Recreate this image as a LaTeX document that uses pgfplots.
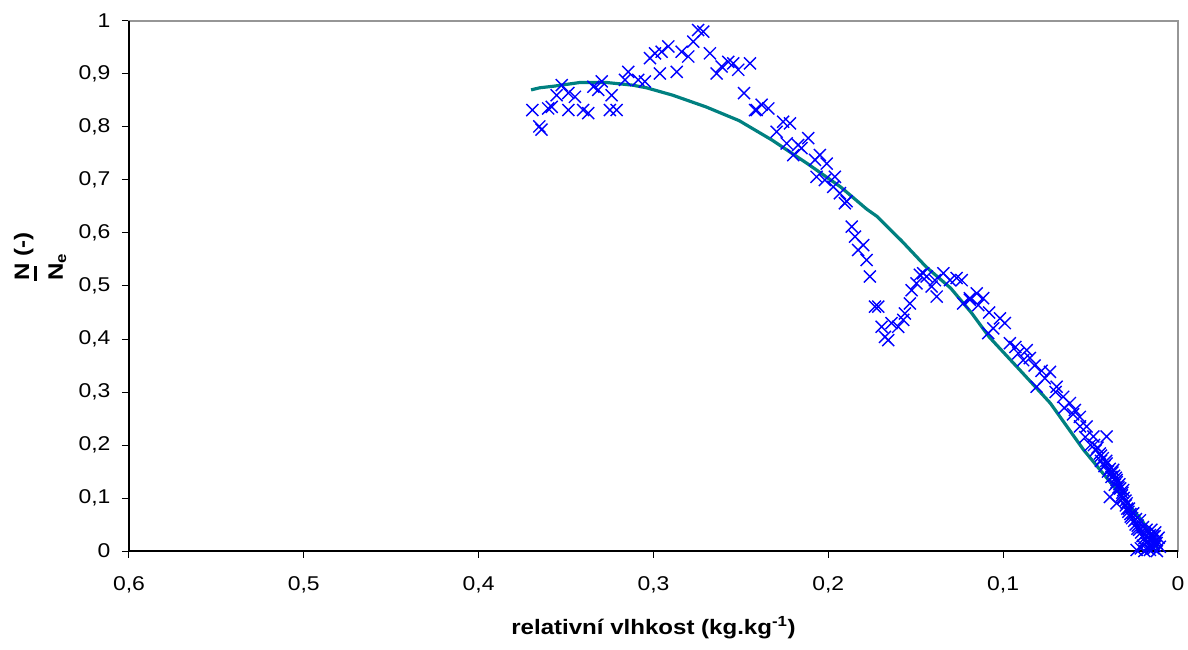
\documentclass[border=0pt]{standalone}
\usepackage{pgfplots}
\pgfplotsset{compat=1.18}
\usepackage{fontspec}
\setmainfont{Liberation Sans}[FakeStretch=1.15]
\definecolor{teal1}{RGB}{0,128,128}
\definecolor{frameg}{RGB}{150,150,150}
\begin{document}
\begin{tikzpicture}
\useasboundingbox (-129bp,-99bp) rectangle (1059bp,551bp);
\begin{axis}[
  at={(0,0)}, anchor=south west,
  scale only axis, width=1049bp, height=530bp,
  x dir=reverse,
  xmin=0, xmax=0.6, ymin=0, ymax=1,
  xtick={0,0.1,0.2,0.3,0.4,0.5,0.6},
  ytick={0,0.1,0.2,0.3,0.4,0.5,0.6,0.7,0.8,0.9,1},
  xtick pos=bottom, ytick pos=left,
  tick align=outside, major tick length=7bp,
  every tick/.style={black, line width=1pt},
  axis line style={frameg, line width=1.2pt},
  /pgf/number format/.cd, use comma, fixed, precision=1, assume math mode=true,
  /pgfplots/.cd,
  tick label style={font=\fontsize{20}{24}\selectfont},
  xticklabel style={yshift=-15bp},
  yticklabel style={xshift=-8bp},
  xlabel={\textbf{relativní vlhkost (kg.kg\textsuperscript{-1})}},
  xlabel style={font=\fontsize{21}{25}\selectfont, yshift=-17bp},
  ylabel={\textbf{\rlap{\rule[-8bp]{15bp}{3.5bp}}N (-)}\\\textbf{N\textsubscript{e}}},
  ylabel style={font=\fontsize{21}{34}\selectfont, align=left, inner sep=0pt, anchor=west, at={(axis description cs:-0.0848,0.5094)}},
  clip=false,
]
\addplot[only marks, mark=x, mark size=8.5bp, mark options={line width=1.4pt}, color={rgb,255:red,0;green,0;blue,255}] table {
0.3693 0.832
0.3653 0.801
0.3640 0.795
0.3602 0.835
0.3582 0.838
0.3554 0.860
0.3525 0.879
0.3487 0.832
0.3487 0.864
0.3449 0.857
0.3402 0.832
0.3373 0.826
0.3344 0.876
0.3316 0.870
0.3296 0.886
0.3249 0.832
0.3211 0.832
0.3239 0.860
0.3144 0.904
0.3163 0.889
0.3087 0.889
0.3049 0.886
0.3020 0.930
0.2991 0.939
0.2953 0.942
0.2915 0.952
0.2963 0.901
0.2867 0.904
0.2839 0.942
0.2801 0.933
0.2772 0.961
0.2744 0.983
0.2715 0.980
0.2677 0.939
0.2639 0.901
0.2610 0.914
0.2572 0.923
0.2544 0.920
0.2515 0.908
0.2448 0.920
0.2482 0.864
0.2419 0.832
0.2381 0.842
0.2343 0.835
0.2410 0.832
0.2258 0.810
0.2219 0.807
0.2295 0.791
0.2238 0.769
0.2172 0.766
0.2115 0.779
0.2153 0.760
0.2200 0.747
0.2048 0.747
0.2076 0.738
0.2009 0.731
0.2067 0.706
0.2019 0.700
0.1962 0.706
0.1972 0.687
0.1933 0.675
0.1905 0.656
0.1895 0.660
0.1866 0.612
0.1847 0.593
0.1800 0.577
0.1829 0.568
0.1781 0.549
0.1762 0.518
0.1733 0.461
0.1714 0.461
0.1695 0.423
0.1676 0.404
0.1657 0.398
0.1638 0.430
0.1600 0.423
0.1571 0.436
0.1562 0.448
0.1533 0.467
0.1523 0.492
0.1495 0.505
0.1476 0.521
0.1437 0.518
0.1409 0.499
0.1390 0.511
0.1457 0.524
0.1342 0.524
0.1304 0.511
0.1237 0.511
0.1380 0.480
0.1190 0.474
0.1151 0.486
0.1266 0.515
0.1190 0.477
0.1114 0.477
0.1142 0.464
0.1228 0.467
0.1080 0.450
0.1018 0.439
0.0990 0.430
0.1056 0.420
0.1085 0.411
0.0961 0.392
0.0930 0.385
0.0865 0.379
0.0913 0.373
0.0847 0.364
0.0885 0.360
0.0820 0.350
0.0780 0.340
0.0732 0.338
0.0761 0.326
0.0808 0.310
0.0700 0.300
0.0694 0.310
0.0656 0.291
0.0650 0.270
0.0618 0.279
0.0600 0.258
0.0589 0.266
0.0561 0.253
0.0560 0.235
0.0522 0.235
0.0530 0.215
0.0484 0.216
0.0500 0.200
0.0408 0.216
0.0470 0.190
0.0446 0.184
0.0440 0.170
0.0420 0.160
0.0408 0.165
0.0400 0.150
0.0370 0.153
0.0380 0.140
0.0351 0.134
0.0360 0.125
0.0340 0.120
0.0313 0.115
0.0320 0.105
0.0389 0.102
0.0351 0.090
0.0300 0.095
0.0293 0.090
0.0280 0.080
0.0256 0.071
0.0270 0.065
0.0240 0.060
0.0217 0.058
0.0230 0.048
0.0200 0.045
0.0179 0.040
0.0190 0.032
0.0160 0.030
0.0141 0.027
0.0150 0.020
0.0122 0.015
0.0130 0.035
0.0110 0.025
0.0160 0.002
0.0103 0.008
0.0236 0.002
0.0200 0.010
0.0180 0.015
0.0140 0.005
0.0120 0.000
0.0480 0.200
0.0460 0.195
0.0440 0.180
0.0430 0.175
0.0410 0.170
0.0390 0.155
0.0375 0.148
0.0365 0.142
0.0355 0.138
0.0350 0.130
0.0335 0.126
0.0330 0.118
0.0318 0.110
0.0310 0.100
0.0298 0.086
0.0290 0.080
0.0283 0.074
0.0272 0.070
0.0262 0.062
0.0250 0.057
0.0242 0.050
0.0232 0.042
0.0222 0.040
0.0210 0.035
0.0203 0.028
0.0192 0.024
0.0183 0.021
0.0172 0.018
0.0162 0.012
0.0152 0.009
0.0142 0.015
0.0132 0.010
0.0123 0.020
0.0133 0.028
0.0152 0.040
0.0172 0.005
0.0192 0.000
0.0212 0.005
};
\addplot[color=teal1, line width=3.2pt, no marks] table {
0.370 0.870
0.365 0.874
0.357 0.877
0.342 0.884
0.327 0.884
0.312 0.879
0.304 0.874
0.289 0.860
0.270 0.838
0.251 0.812
0.232 0.775
0.212 0.731
0.193 0.687
0.178 0.645
0.172 0.631
0.158 0.585
0.144 0.536
0.130 0.496
0.118 0.449
0.108 0.404
0.090 0.340
0.073 0.279
0.054 0.191
0.035 0.115
0.020 0.055
0.011 0.002
};
\draw[black, line width=1.2pt] (axis description cs:0,1) -- (axis description cs:0,0) -- (axis description cs:1,0);
\end{axis}
\end{tikzpicture}
\end{document}
